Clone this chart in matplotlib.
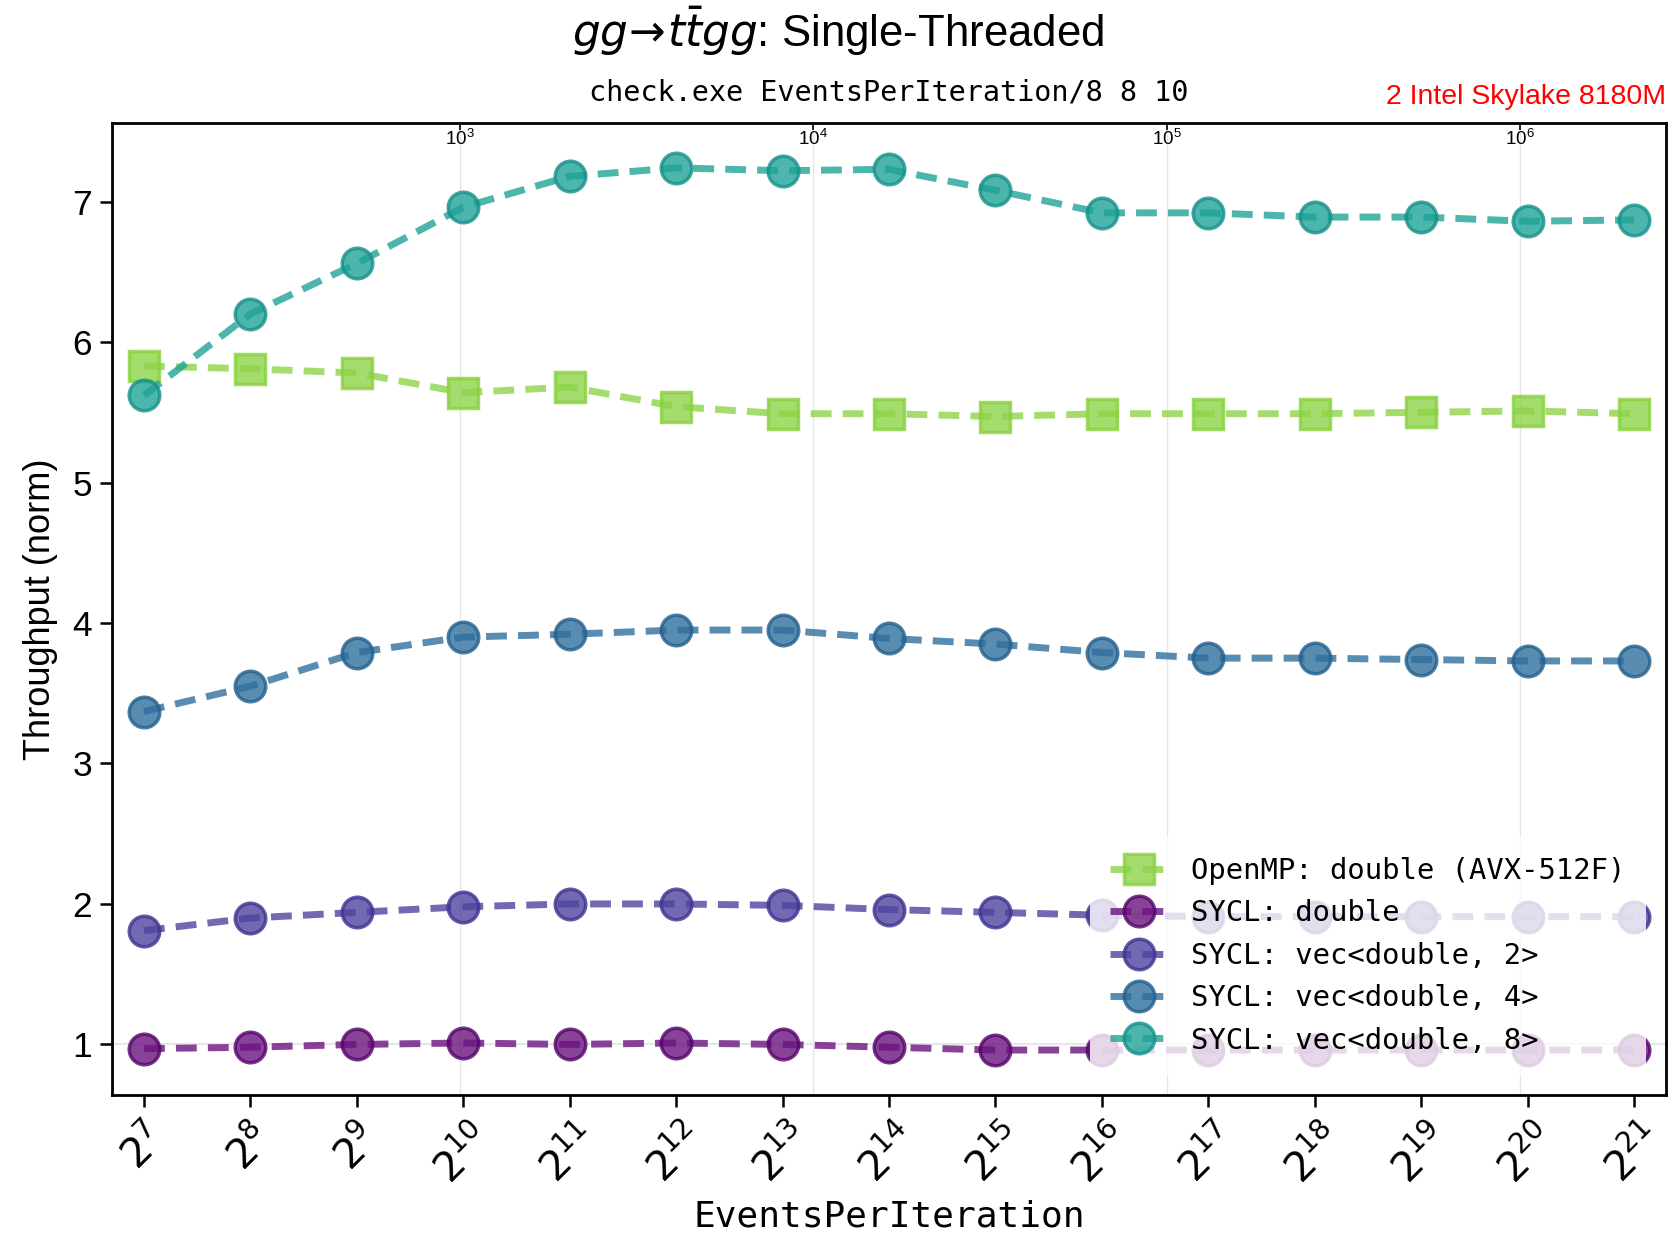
import matplotlib
matplotlib.use('Agg')
from matplotlib import pyplot as plt
from matplotlib import ticker

plt.rcParams['font.family'] = ['Liberation Sans', 'DejaVu Sans']

# EventsPerIteration = 2^exponent
exponents = list(range(7, 22))
events = [2 ** e for e in exponents]

openmp_double = [5.83, 5.81, 5.78, 5.64, 5.68, 5.54, 5.49, 5.49, 5.47, 5.49, 5.49, 5.49, 5.50, 5.51, 5.49]
sycl_double = [0.97, 0.98, 1.00, 1.01, 1.00, 1.01, 1.00, 0.98, 0.96, 0.96, 0.96, 0.96, 0.96, 0.96, 0.96]
sycl_vec2 = [1.81, 1.90, 1.94, 1.98, 2.00, 2.00, 1.99, 1.96, 1.94, 1.92, 1.91, 1.91, 1.91, 1.91, 1.91]
sycl_vec4 = [3.37, 3.55, 3.79, 3.90, 3.92, 3.95, 3.95, 3.89, 3.85, 3.79, 3.75, 3.75, 3.74, 3.73, 3.73]
sycl_vec8 = [5.62, 6.20, 6.56, 6.96, 7.18, 7.24, 7.22, 7.23, 7.08, 6.92, 6.92, 6.89, 6.89, 6.86, 6.87]

labels = ['OpenMP: double (AVX-512F)', 'SYCL: double', 'SYCL: vec<double, 2>',
          'SYCL: vec<double, 4>', 'SYCL: vec<double, 8>']
colors = ['#8fd44a', '#6a1480', '#4f44a0', '#2f6f9e', '#1fa398']
edges = ['#86d23c', '#55046a', '#3e3290', '#23608c', '#16908a']
markers = ['s', 'o', 'o', 'o', 'o']
top_ticks = [1e3, 1e4, 1e5, 1e6]

fig = plt.figure(figsize=(16.75, 12.37), dpi=100)
ax = fig.add_axes([0.0669, 0.1148, 0.9277, 0.7858])
ax2 = ax.twiny()

series = [openmp_double, sycl_double, sycl_vec2, sycl_vec4, sycl_vec8]
for vals, lab, c, ec, m in zip(series, labels, colors, edges, markers):
    ax.plot(events, vals, ls='--', lw=5, dashes=(3, 1.6), marker=m, ms=22,
            color=c, mec=ec, mew=2.5, alpha=0.8, label=lab)

ax.axhline(1, color='0.9', lw=1.5, zorder=0)

ax.set_xscale('log', base=2)
ax.set_xlim(2 ** 6.7, 2 ** 21.3)
ax.set_ylim(0.64, 7.56)
ax.set_xticks(events)
ax.set_xticklabels(['$2^{%d}$' % e for e in exponents], rotation=45, fontsize=29)
ax.xaxis.set_minor_locator(ticker.NullLocator())
ax.set_yticks([1, 2, 3, 4, 5, 6, 7])
ax.tick_params(axis='y', labelsize=25.5, pad=6)
ax.tick_params(axis='x', pad=8)
ax.tick_params(width=1.8, length=8.5)
for s in ax.spines.values():
    s.set_linewidth(2)

# top axis in plain powers of ten, with its grid behind the data
ax2.set_xscale('log')
ax2.set_xlim(ax.get_xlim())
ax2.set_xticks(top_ticks)
ax2.xaxis.set_minor_locator(ticker.NullLocator())
ax2.tick_params(axis='x', direction='in', pad=-19, labelsize=13.5, length=5, width=1.2)
ax2.grid(axis='x', color='0.9', lw=1)
ax.set_zorder(ax2.get_zorder() + 1)
ax.patch.set_visible(False)

ax.set_ylabel('Throughput (norm)', fontsize=26, labelpad=10)
ax.set_xlabel('EventsPerIteration', fontsize=26, family='DejaVu Sans Mono', labelpad=6)
ax.set_title('check.exe EventsPerIteration/8 8 10', family='DejaVu Sans Mono',
             fontsize=20.5, pad=16)
ax.text(1.0, 1.013, '2 Intel Skylake 8180M', transform=ax.transAxes,
        ha='right', va='bottom', color='red', fontsize=20.5)
fig.text(0.5, 0.975, r'$gg\!\rightarrow\! t\bar{t}gg$: Single-Threaded', ha='center',
         va='center', fontsize=31.5)

leg = ax.legend(loc='lower right', prop={'family': 'DejaVu Sans Mono', 'size': 20.8},
                framealpha=0.8, edgecolor='none', borderaxespad=1.0, labelspacing=0.5)
leg.get_frame().set_boxstyle('square')

fig.savefig('out.png', dpi=100)
